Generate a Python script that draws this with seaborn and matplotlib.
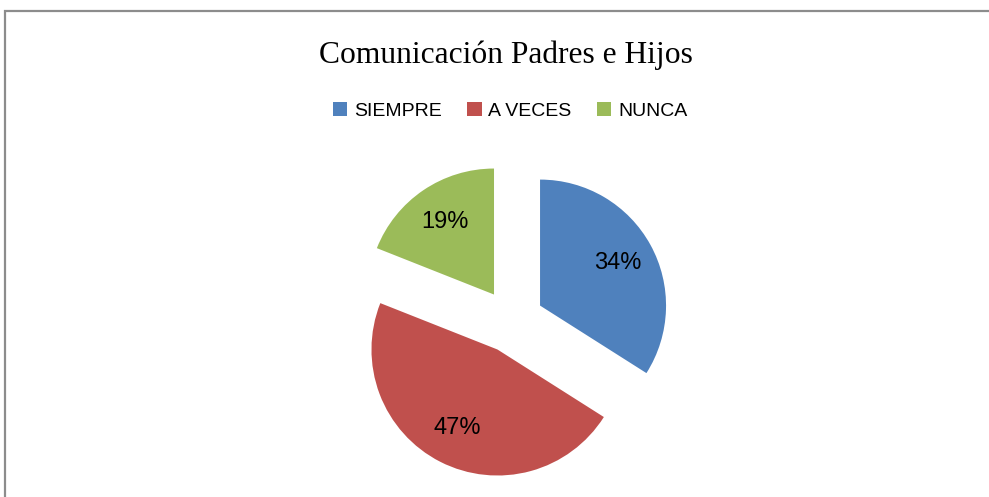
import matplotlib
matplotlib.use("Agg")
import matplotlib.pyplot as plt
import matplotlib.patches as mpatches
import seaborn as sns

# data
categorias = ["SIEMPRE", "A VECES", "NUNCA"]
porcentajes = [34, 47, 19]
colores = ["#4F81BD", "#C0504D", "#9BBB59"]
titulo = "Comunicación Padres e Hijos"

sns.set_theme(style="white")
plt.rcParams["font.family"] = ["Liberation Sans", "DejaVu Sans"]
plt.rcParams["text.color"] = "black"

W, H = 989, 497
fig = plt.figure(figsize=(W / 100, H / 100), dpi=100)
fig.patch.set_facecolor("white")
ax = fig.add_axes([0, 0, 1, 1])

# pie drawn in pixel units: radius 126 px, slices pulled out 32 px
radio = 126
wedges, textos, autotextos = ax.pie(
    porcentajes,
    colors=colores,
    startangle=90,
    counterclock=False,
    explode=[32] * 3,
    radius=radio,
    center=(512, H - 321),
    autopct="%1.0f%%",
    pctdistance=0.70,
    textprops={"fontsize": 17, "color": "black"},
    wedgeprops={"linewidth": 0},
)
ax.set_xlim(0, W)
ax.set_ylim(0, H)
ax.set_aspect("auto")
ax.axis("off")

fig.text(506 / W, 1 - 55 / H, titulo, ha="center", va="center",
         fontsize=22.7, color="black",
         family=["Liberation Serif", "DejaVu Serif"])

fig.legend(wedges, categorias, loc="center", ncol=3,
           bbox_to_anchor=(510 / W, 1 - 111 / H), frameon=False,
           fontsize=14, handlelength=0.75, handleheight=0.75,
           handletextpad=0.35, columnspacing=1.3, borderpad=0,
           labelcolor="black")

# chart border (cut off at the right and bottom)
borde = mpatches.Rectangle((5 / W, -0.05), 1.1, 1 - 11 / H + 0.05,
                           transform=fig.transFigure, fill=False,
                           edgecolor="#8c8c8c", linewidth=1.6, clip_on=False)
fig.patches.append(borde)

fig.savefig("out.png", dpi=100)
